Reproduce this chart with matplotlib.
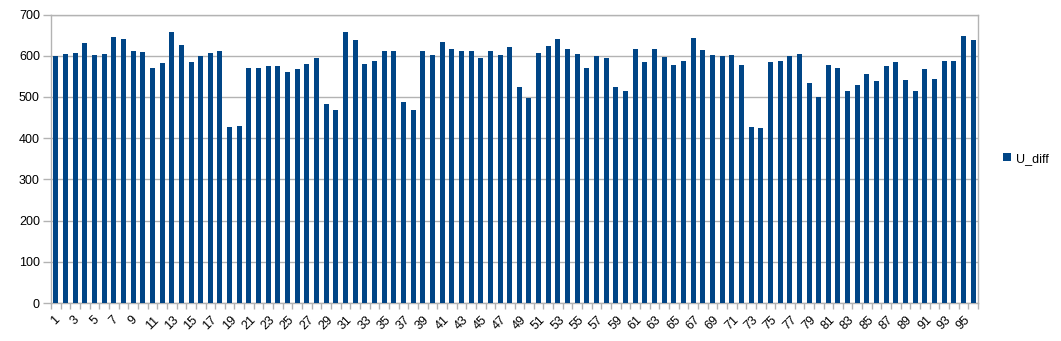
import numpy as np
import matplotlib
matplotlib.use('Agg')
import matplotlib.pyplot as plt

# U_diff values (categories 1..96)
categories = list(range(1, 97))
u_diff = [600, 604, 607, 630, 601, 604, 645, 640, 611, 608,
          570, 582, 657, 626, 585, 599, 607, 611, 427, 429,
          570, 570, 574, 574, 561, 568, 580, 595, 484, 468,
          657, 638, 580, 587, 611, 611, 487, 468, 611, 601,
          633, 616, 611, 611, 594, 611, 601, 621, 523, 497,
          606, 623, 640, 616, 604, 570, 599, 594, 523, 514,
          616, 584, 616, 596, 577, 587, 642, 613, 601, 599,
          601, 577, 426, 424, 584, 587, 599, 604, 533, 499,
          577, 570, 514, 528, 555, 538, 574, 584, 540, 514,
          567, 543, 587, 587, 647, 638]
tick_labels = [str(c) for c in categories[::2]]

plt.rcParams['font.family'] = ['Liberation Sans', 'DejaVu Sans']
grid_col = '#b3b3b3'
bar_col = '#004586'

fig = plt.figure(figsize=(10.61, 3.41), dpi=100)
ax = fig.add_axes([51 / 1061, 1 - 303 / 341, 927 / 1061, 288.5 / 341])

ax.bar(categories, u_diff, width=0.52, color=bar_col, label='U_diff', zorder=3)

ax.set_xlim(0.5, 96.5)
ax.set_ylim(0, 700)
ax.set_yticks(np.arange(0, 701, 100))
ax.yaxis.grid(True, color=grid_col, linewidth=1, zorder=0)
ax.tick_params(axis='y', length=6, width=1, color=grid_col, labelsize=9, pad=2)

ax.set_xticks(categories[::2])
ax.set_xticklabels(tick_labels, rotation=45, ha='center', va='top', fontsize=9)
ax.set_xticks(np.arange(0.5, 97, 1), minor=True)
ax.tick_params(axis='x', which='major', length=0, pad=8)
ax.tick_params(axis='x', which='minor', length=4, width=1, color=grid_col)

for s in ax.spines.values():
    s.set_color(grid_col)
    s.set_linewidth(1)

ax.legend(loc='center left', bbox_to_anchor=(1.015, 0.5), frameon=False,
          fontsize=9, handlelength=0.6, handleheight=0.6, handletextpad=0.4)

fig.savefig('out.png', dpi=100)
